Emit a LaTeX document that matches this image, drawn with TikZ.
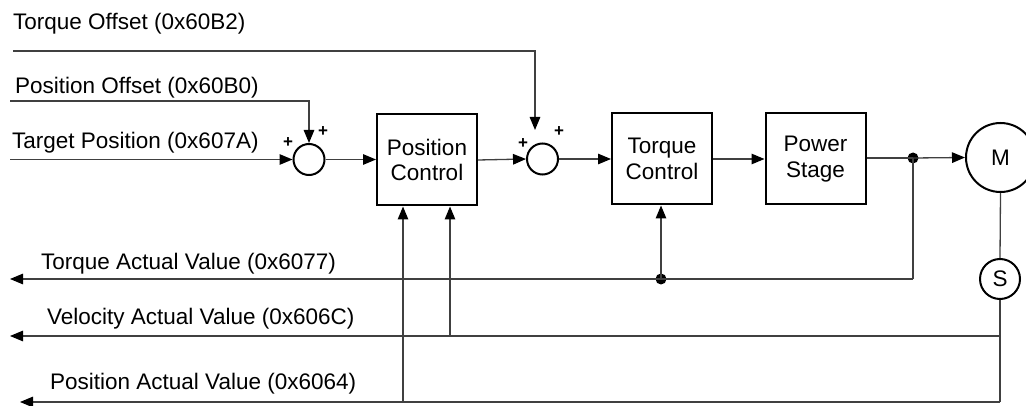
\documentclass[tikz,border=0pt]{standalone}
\usepackage{fontspec}
\setmainfont{Liberation Sans}
\usetikzlibrary{arrows.meta}
\begin{document}
\begin{tikzpicture}[x=1pt,y=-1pt,
  font=\fontsize{22.5}{25.5}\selectfont,
  sig/.style={draw=black!75,line width=1.3pt},
  arr/.style={sig,-{Triangle[length=13pt,width=10.5pt,color=black]}},
  blk/.style={draw=black,line width=2pt,minimum width=100pt,minimum height=91pt,align=center,inner sep=0pt},
  sumc/.style={circle,draw=black,line width=2pt,minimum size=31pt,inner sep=0pt},
  lbl/.style={anchor=base west,inner sep=0pt},
  pls/.style={inner sep=0pt,font=\fontsize{17}{17}\selectfont\bfseries},
  dot/.style={circle,fill=black,inner sep=0pt,minimum size=11pt}]
\useasboundingbox (0,0) rectangle (1026,406);
% blocks
\node[sumc] (s1) at (309,159.5) {};
\node[blk] (pc) at (427,160) {Position\\Control};
\node[sumc] (s2) at (542.5,159) {};
\node[blk] (tc) at (662,159) {Torque\\Control};
\node[blk] (ps) at (815.5,159) {Power\\Stage};
\node[circle,draw=black,line width=2pt,minimum size=69pt,inner sep=0pt] (m) at (1000.5,157.5) {M};
\node[circle,draw=black,line width=2pt,minimum size=40pt,inner sep=0pt] (s) at (1000,279) {S};
% labels
\node[lbl] (lto) at (13,30) {Torque Offset (0x60B2)};
\node[lbl] (lpo) at (15,94) {Position Offset (0x60B0)};
\node[lbl] (ltp) at (12,149) {Target Position (0x607A)};
\node[lbl] (lta) at (41,270) {Torque Actual Value (0x6077)};
\node[lbl] (lva) at (47,324) {Velocity Actual Value (0x606C)};
\node[lbl] (lpa) at (50,389) {Position Actual Value (0x6064)};
% plus signs
\node[pls] (p1) at (288,143) {+};
\node[pls] (p2) at (323,132) {+};
\node[pls] (p3) at (523,144) {+};
\node[pls] (p4) at (559,132) {+};
% coordinates
\coordinate (toA) at (13,51);
\coordinate (toB) at (535,51);
\coordinate (toC) at (535,130);
\coordinate (poA) at (10,101);
\coordinate (poB) at (309,101);
\coordinate (tpA) at (10,159.5);
\coordinate (tqR) at (913,279);
\coordinate (tqL) at (10,279);
\coordinate (veR) at (1000,336);
\coordinate (veL) at (10,336);
\coordinate (veT) at (450,336);
\coordinate (paR) at (1000,402);
\coordinate (paL) at (20,402);
\coordinate (paT) at (403,402);
\node[dot] (j1) at (913,158) {};
\node[dot] (j2) at (661,279) {};
% forward path
\draw[arr] (toA) -- (toB) -- (toC);
\draw[arr] (poA) -- (poB) -- (s1.north);
\draw[arr] (tpA) -- (s1.west);
\draw[arr] (s1.east) -- (s1.east -| pc.west);
\draw[arr] (pc.east) -- (s2.west);
\draw[arr] (s2.east) -- (s2.east -| tc.west);
\draw[arr] (tc.east) -- (ps.west);
\draw[sig] (ps.east |- j1) -- (j1.center);
\draw[arr] (j1.center) -- (m.west);
% feedback
\draw[sig] (j1.center) -- (tqR);
\draw[arr] (tqR) -- (tqL);
\draw[arr] (j2.center) -- (j2.center |- tc.south);
\draw[sig] (m.south) -- (s.north);
\draw[sig] (s.south) -- (veR) -- (paR);
\draw[arr] (veR) -- (veL);
\draw[arr] (veT) -- (veT |- pc.south);
\draw[arr] (paR) -- (paL);
\draw[arr] (paT) -- (paT |- pc.south);
\end{tikzpicture}
\end{document}
